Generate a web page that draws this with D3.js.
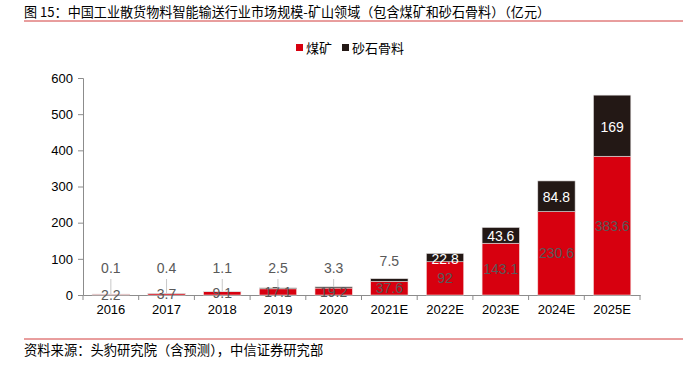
<!DOCTYPE html>
<html>
<head>
<meta charset="utf-8">
<script src="https://cdn.jsdelivr.net/npm/d3@7"></script>
<style>
  body { margin: 0; background: #fff; }
  text { font-family: "Liberation Sans", Arial, "Noto Sans CJK SC", sans-serif; }
  .cjk { font-family: "Noto Sans CJK SC", sans-serif; }
</style>
</head>
<body>
<svg id="chart" width="697" height="367"></svg>
<script>
// 数据
const years = ['2016', '2017', '2018', '2019', '2020', '2021E', '2022E', '2023E', '2024E', '2025E'];
const coal = [2.2, 3.7, 9.1, 17.1, 19.2, 37.6, 92, 143.1, 230.6, 383.6];      // 煤矿
const aggregate = [0.1, 0.4, 1.1, 2.5, 3.3, 7.5, 22.8, 43.6, 84.8, 169];     // 砂石骨料
const yTicks = [0, 100, 200, 300, 400, 500, 600];
const seriesNames = ['煤矿', '砂石骨料'];

const RED = '#d7000f', DARK = '#231815', AXIS = '#8c8c8c', LABEL = '#595959';

const svg = d3.select('#chart');
const margin = { top: 78, left: 83, right: 57, bottom: 72 };
const W = 697, H = 367;

const x = d3.scaleBand(years, [margin.left, W - margin.right]).paddingInner(0.33).paddingOuter(0.165);
const y = d3.scaleLinear([0, 600], [H - margin.bottom, margin.top]);

// 标题
svg.append('text')
  .attr('class', 'cjk')
  .attr('x', 24).attr('y', 17)
  .attr('font-size', 13.1)
  .attr('fill', '#000')
  .text('图 15：中国工业散货物料智能输送行业市场规模-矿山领域（包含煤矿和砂石骨料）（亿元）');
svg.append('line')
  .attr('x1', 24).attr('x2', 683).attr('y1', 21).attr('y2', 21)
  .attr('stroke', '#d23c3c').attr('stroke-width', 1);

// 图例
const legend = svg.append('g').attr('transform', 'translate(296, 48)');
const legendX = [0, 46];
seriesNames.forEach((name, i) => {
  legend.append('rect')
    .attr('x', legendX[i]).attr('y', -4).attr('width', 7).attr('height', 7)
    .attr('fill', i === 0 ? RED : DARK);
  legend.append('text')
    .attr('class', 'cjk')
    .attr('x', legendX[i] + 10).attr('y', 5)
    .attr('font-size', 13)
    .text(name);
});

// 坐标轴
const yAxis = svg.append('g')
  .attr('transform', `translate(${margin.left},0)`)
  .call(d3.axisLeft(y).tickValues(yTicks).tickSize(5).tickPadding(5));
yAxis.select('.domain').attr('stroke', AXIS);
yAxis.selectAll('.tick line').attr('stroke', AXIS);
yAxis.selectAll('.tick text').attr('font-size', 13).attr('fill', '#000')
  .attr('font-family', '"Liberation Sans", Arial, sans-serif');

const xAxis = svg.append('g')
  .attr('transform', `translate(0,${y(0)})`)
  .call(d3.axisBottom(x).tickSize(0).tickPadding(10));
xAxis.select('.domain').attr('stroke', AXIS);
xAxis.selectAll('.tick text').attr('font-size', 13).attr('fill', '#000')
  .attr('font-family', '"Liberation Sans", Arial, sans-serif');
// 类别分隔刻度
const step = x.step();
const bounds = d3.range(years.length + 1).map(i => x(years[0]) - (step - x.bandwidth()) / 2 + i * step);
svg.append('g').selectAll('line')
  .data(bounds)
  .join('line')
    .attr('x1', d => d).attr('x2', d => d)
    .attr('y1', y(0)).attr('y2', y(0) + 5)
    .attr('stroke', AXIS);

// 柱子
const stackData = years.map((yr, i) => ({ year: yr, coal: coal[i], agg: aggregate[i] }));
const bw = x.bandwidth();
const bars = svg.append('g');
bars.selectAll('rect.coal')
  .data(stackData)
  .join('rect')
    .attr('class', 'coal')
    .attr('x', d => x(d.year))
    .attr('y', d => y(d.coal))
    .attr('width', bw)
    .attr('height', d => y(0) - y(d.coal))
    .attr('fill', RED)
    .attr('stroke', '#f3dada').attr('stroke-width', 0.6);
bars.selectAll('rect.agg')
  .data(stackData)
  .join('rect')
    .attr('class', 'agg')
    .attr('x', d => x(d.year))
    .attr('y', d => y(d.coal + d.agg))
    .attr('width', bw)
    .attr('height', d => y(d.coal) - y(d.coal + d.agg))
    .attr('fill', DARK)
    .attr('stroke', '#e0dcdc').attr('stroke-width', 0.6);

// 数据标签
const labels = svg.append('g').attr('font-size', 14).attr('text-anchor', 'middle');
labels.selectAll('text.coal')
  .data(stackData)
  .join('text')
    .attr('x', d => x(d.year) + bw / 2)
    .attr('y', d => (y(0) + y(d.coal)) / 2)
    .attr('dy', '0.36em')
    .attr('fill', LABEL)
    .text(d => d.coal);

const inside = d => y(d.coal) - y(d.coal + d.agg) > 6;
const outY = d => Math.min(y(d.coal + d.agg) - 18, 268);
labels.selectAll('text.agg')
  .data(stackData)
  .join('text')
    .attr('x', d => x(d.year) + bw / 2)
    .attr('y', d => inside(d) ? (y(d.coal) + y(d.coal + d.agg)) / 2 + 1 : outY(d))
    .attr('dy', '0.36em')
    .attr('fill', d => inside(d) ? '#fff' : LABEL)
    .text(d => d.agg);

// 引导线
svg.append('g').selectAll('line')
  .data(stackData.filter(d => !inside(d) && !d.year.endsWith('E')))
  .join('line')
    .attr('x1', d => x(d.year) + bw / 2).attr('x2', d => x(d.year) + bw / 2)
    .attr('y1', d => outY(d) + 11)
    .attr('y2', d => y(d.coal + d.agg))
    .attr('stroke', '#c8c8c8').attr('stroke-width', 1);

// 底部
svg.append('line')
  .attr('x1', 24).attr('x2', 683).attr('y1', 339).attr('y2', 339)
  .attr('stroke', '#d23c3c').attr('stroke-width', 1);
svg.append('text')
  .attr('class', 'cjk')
  .attr('x', 24).attr('y', 355)
  .attr('font-size', 13.3)
  .text('资料来源：头豹研究院（含预测），中信证券研究部');
</script>
</body>
</html>
